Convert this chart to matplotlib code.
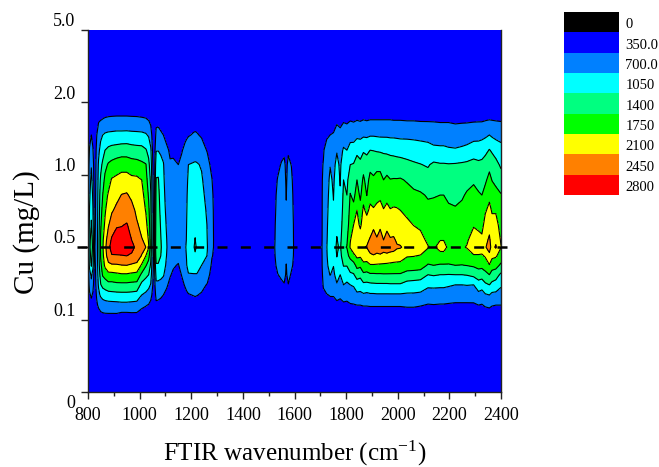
#!/usr/bin/env python3
# -*- coding: utf-8 -*-
import numpy as np
from matplotlib import pyplot as plt
from matplotlib.colors import ListedColormap

plt.rcParams['font.family'] = ['Liberation Serif', 'DejaVu Serif']
plt.rcParams['mathtext.default'] = 'regular'
plt.rcParams['lines.scale_dashes'] = False

# y axis is evenly spaced by category, not by concentration
cu_labels = ['0', '0.1', '0.5', '1.0', '2.0', '5.0']
cu_ticks = [0, 1, 2, 3, 4, 5]
row_pos = [3.96, 3.76, 3.55, 3.34, 3.14, 2.93, 2.72, 2.51, 2.31, 2.10,
           2.00, 1.88, 1.75, 1.62, 1.48, 1.34, 1.20, 1.06]
background = 400

levels = [0, 350, 700, 1050, 1400, 1750, 2100, 2450, 2800, 3500]
level_labels = ['0', '350.0', '700.0', '1050', '1400', '1750', '2100', '2450', '2800']
colors = ['#000000', '#0000ff', '#0080ff', '#00ffff', '#00ff80',
          '#00ff00', '#ffff00', '#ff8000', '#ff0000']

wavenumber = [800, 806, 813, 819, 825, 834, 841, 849, 857, 866, 879, 892, 911, 930, 950, 969,
              989, 1008, 1024, 1035, 1043, 1051, 1057, 1064, 1072, 1082, 1092, 1105, 1118, 1130,
              1150, 1163, 1176, 1182, 1189, 1208, 1215, 1222, 1240, 1262, 1280, 1288, 1300, 1400,
              1500, 1522, 1535, 1550, 1560, 1568, 1576, 1588, 1597, 1610, 1700, 1706, 1712, 1725,
              1738, 1751, 1764, 1777, 1790, 1803, 1816, 1829, 1842, 1855, 1867, 1880, 1893, 1906,
              1919, 1932, 1945, 1958, 1971, 1984, 1997, 2010, 2036, 2062, 2088, 2117, 2139, 2164,
              2178, 2197, 2223, 2249, 2268, 2294, 2313, 2326, 2339, 2355, 2365, 2380, 2400]

# one line per wavenumber, one value per row_pos
intensity = [
    [420, 440, 460, 480, 500, 520, 540, 560, 580, 620, 650, 620, 580, 540, 520, 480, 450, 420],
    [470, 540, 615, 720, 850, 920, 995, 1065, 1135, 1260, 1300, 1220, 1135, 915, 800, 655, 545, 470],
    [500, 600, 700, 850, 1030, 1130, 1235, 1335, 1430, 1600, 1650, 1540, 1430, 1120, 950, 750, 600, 500],
    [470, 540, 615, 720, 850, 920, 995, 1065, 1135, 1260, 1300, 1220, 1135, 915, 800, 655, 545, 470],
    [420, 440, 460, 480, 500, 520, 540, 560, 580, 620, 650, 620, 580, 540, 520, 480, 450, 420],
    [480, 560, 700, 780, 820, 840, 860, 870, 880, 890, 900, 890, 880, 860, 830, 750, 650, 550],
    [520, 670, 830, 980, 1090, 1150, 1190, 1220, 1250, 1290, 1300, 1280, 1250, 1190, 1090, 970, 760, 560],
    [540, 690, 980, 1150, 1300, 1450, 1550, 1620, 1700, 1790, 1800, 1770, 1680, 1530, 1380, 1100, 840, 620],
    [550, 710, 1050, 1250, 1470, 1610, 1750, 1850, 1950, 2030, 2050, 2010, 1900, 1790, 1500, 1180, 880, 640],
    [560, 725, 1100, 1400, 1650, 1830, 1960, 2060, 2150, 2320, 2360, 2300, 2170, 1890, 1550, 1230, 900, 650],
    [570, 735, 1130, 1480, 1790, 1960, 2140, 2270, 2420, 2620, 2700, 2620, 2370, 2000, 1640, 1260, 920, 650],
    [570, 740, 1140, 1520, 1850, 2130, 2280, 2410, 2600, 2850, 2950, 2770, 2400, 2000, 1640, 1280, 920, 650],
    [570, 745, 1160, 1540, 1920, 2180, 2350, 2530, 2770, 2920, 3000, 2770, 2410, 2030, 1670, 1290, 930, 650],
    [570, 745, 1160, 1570, 1960, 2240, 2460, 2610, 2780, 2940, 3000, 2780, 2440, 2060, 1670, 1300, 950, 600],
    [570, 745, 1167, 1575, 1950, 2250, 2485, 2660, 2820, 2950, 3020, 2800, 2450, 2060, 1670, 1300, 950, 600],
    [570, 740, 1150, 1540, 1900, 2180, 2380, 2560, 2700, 2800, 2900, 2750, 2400, 2030, 1650, 1290, 930, 620],
    [560, 740, 1140, 1520, 1880, 2170, 2280, 2380, 2490, 2660, 2720, 2620, 2380, 2000, 1640, 1260, 920, 620],
    [560, 730, 1130, 1510, 1820, 2100, 2200, 2280, 2360, 2470, 2560, 2430, 2050, 1680, 1300, 1050, 770, 570],
    [550, 720, 1090, 1430, 1770, 1880, 1980, 2080, 2200, 2390, 2450, 2100, 1780, 1490, 1220, 980, 720, 540],
    [530, 690, 1010, 1300, 1480, 1590, 1710, 1820, 1930, 2060, 2120, 1850, 1620, 1400, 1130, 920, 680, 520],
    [500, 620, 840, 1110, 1220, 1340, 1420, 1480, 1540, 1590, 1620, 1500, 1350, 1200, 1030, 790, 620, 480],
    [450, 480, 560, 630, 700, 740, 760, 780, 790, 800, 820, 790, 770, 740, 700, 620, 530, 440],
    [420, 430, 450, 480, 520, 550, 570, 590, 600, 620, 640, 620, 600, 570, 540, 500, 450, 420],
    [480, 610, 780, 1030, 1270, 1420, 1500, 1560, 1620, 1680, 1720, 1600, 1350, 1150, 990, 790, 630, 500],
    [480, 620, 790, 1040, 1260, 1430, 1500, 1560, 1620, 1680, 1700, 1590, 1350, 1140, 990, 780, 620, 500],
    [470, 590, 740, 1000, 1140, 1210, 1260, 1300, 1360, 1420, 1450, 1400, 1300, 1130, 950, 750, 590, 490],
    [460, 570, 700, 950, 1070, 1100, 1130, 1150, 1170, 1190, 1200, 1180, 1150, 1080, 900, 700, 570, 470],
    [440, 530, 630, 740, 830, 890, 930, 980, 1020, 1050, 1060, 1040, 1000, 900, 730, 640, 530, 450],
    [430, 500, 590, 670, 720, 790, 840, 870, 880, 890, 900, 880, 830, 720, 640, 580, 500, 440],
    [430, 490, 570, 650, 740, 780, 800, 820, 830, 840, 850, 820, 730, 660, 610, 570, 500, 440],
    [430, 480, 550, 620, 700, 760, 790, 800, 810, 820, 830, 780, 680, 620, 580, 540, 480, 430],
    [430, 500, 590, 680, 760, 810, 850, 880, 890, 900, 920, 890, 830, 710, 640, 580, 500, 440],
    [440, 530, 640, 760, 840, 890, 930, 960, 980, 1000, 1020, 990, 950, 850, 720, 630, 530, 450],
    [445, 550, 660, 800, 920, 980, 1010, 1030, 1050, 1060, 1080, 1060, 1040, 950, 760, 660, 550, 460],
    [450, 570, 680, 860, 1050, 1100, 1140, 1170, 1200, 1240, 1260, 1220, 1150, 1030, 830, 680, 570, 470],
    [460, 590, 720, 880, 1080, 1150, 1200, 1240, 1280, 1320, 1340, 1290, 1200, 1030, 860, 710, 580, 480],
    [460, 600, 730, 900, 1090, 1170, 1230, 1280, 1340, 1410, 1480, 1330, 1210, 1030, 870, 720, 590, 480],
    [460, 590, 720, 880, 1080, 1150, 1200, 1240, 1280, 1320, 1340, 1290, 1200, 1030, 860, 710, 580, 480],
    [450, 570, 670, 820, 1020, 1090, 1130, 1170, 1210, 1260, 1280, 1190, 1050, 940, 780, 670, 560, 470],
    [430, 500, 590, 680, 800, 880, 960, 1010, 1040, 1050, 1060, 1040, 980, 820, 680, 600, 510, 440],
    [410, 440, 480, 540, 620, 710, 770, 800, 810, 810, 800, 720, 640, 580, 530, 490, 450, 420],
    [410, 430, 460, 500, 550, 600, 630, 650, 660, 670, 670, 660, 620, 580, 540, 500, 460, 430],
    [420, 430, 450, 470, 490, 500, 510, 520, 530, 540, 550, 540, 530, 510, 490, 470, 450, 430],
    [420, 430, 450, 470, 490, 500, 510, 520, 530, 540, 550, 540, 530, 510, 490, 470, 450, 430],
    [420, 430, 450, 470, 490, 500, 510, 520, 530, 540, 550, 540, 530, 510, 490, 470, 450, 430],
    [420, 440, 460, 490, 530, 580, 620, 640, 660, 670, 680, 670, 640, 610, 560, 500, 460, 430],
    [430, 450, 480, 540, 620, 720, 770, 790, 810, 830, 850, 810, 770, 690, 560, 500, 460, 430],
    [430, 460, 500, 590, 730, 780, 820, 840, 850, 860, 880, 850, 810, 760, 640, 540, 470, 430],
    [430, 470, 530, 640, 760, 800, 830, 850, 870, 880, 900, 870, 840, 790, 680, 560, 480, 430],
    [430, 470, 530, 600, 630, 660, 690, 720, 790, 830, 860, 760, 690, 660, 590, 520, 470, 430],
    [430, 470, 540, 660, 770, 810, 840, 860, 870, 880, 900, 870, 840, 800, 690, 570, 490, 430],
    [420, 450, 490, 560, 690, 760, 790, 810, 820, 830, 840, 820, 760, 660, 560, 500, 460, 430],
    [420, 440, 460, 500, 560, 600, 640, 660, 680, 685, 690, 680, 650, 600, 540, 490, 450, 420],
    [420, 430, 450, 470, 490, 500, 510, 520, 530, 540, 550, 540, 530, 510, 490, 470, 450, 430],
    [420, 430, 450, 480, 520, 550, 570, 590, 600, 620, 640, 620, 600, 570, 540, 500, 450, 430],
    [430, 470, 540, 640, 680, 690, 690, 690, 690, 690, 695, 690, 690, 680, 670, 640, 500, 440],
    [430, 480, 560, 680, 710, 720, 730, 735, 740, 750, 760, 750, 740, 730, 710, 680, 520, 450],
    [450, 540, 660, 800, 900, 940, 960, 980, 1000, 1020, 1040, 1020, 990, 950, 880, 680, 560, 460],
    [460, 580, 700, 880, 1040, 1100, 1140, 1180, 1220, 1270, 1300, 1260, 1180, 1060, 900, 720, 580, 470],
    [470, 590, 720, 860, 970, 1010, 1040, 1070, 1100, 1170, 1220, 1150, 1060, 980, 860, 720, 590, 480],
    [480, 640, 830, 1030, 1130, 1190, 1240, 1280, 1330, 1420, 1460, 1410, 1320, 1180, 1020, 800, 620, 490],
    [480, 610, 780, 930, 1000, 1030, 1080, 1140, 1210, 1290, 1340, 1260, 1180, 1050, 920, 760, 600, 490],
    [490, 660, 880, 1090, 1240, 1400, 1470, 1530, 1590, 1680, 1720, 1650, 1420, 1200, 1050, 830, 640, 490],
    [490, 640, 860, 1050, 1240, 1320, 1400, 1480, 1560, 1700, 1760, 1650, 1420, 1180, 1000, 810, 630, 490],
    [490, 680, 930, 1170, 1400, 1600, 1770, 1870, 1960, 2080, 2130, 1850, 1550, 1350, 1050, 860, 670, 500],
    [490, 660, 920, 1190, 1420, 1540, 1650, 1870, 2100, 2270, 2330, 2000, 1620, 1370, 1090, 870, 680, 500],
    [490, 690, 970, 1310, 1560, 1750, 1920, 2100, 2220, 2350, 2420, 2170, 1850, 1550, 1220, 980, 700, 510],
    [490, 670, 960, 1280, 1470, 1560, 1680, 1880, 2030, 2290, 2400, 2150, 1820, 1500, 1200, 970, 700, 510],
    [490, 700, 1000, 1360, 1610, 1820, 1990, 2160, 2280, 2400, 2440, 2300, 1990, 1680, 1320, 1000, 720, 510],
    [490, 680, 990, 1340, 1520, 1610, 1740, 2020, 2250, 2410, 2460, 2280, 1980, 1650, 1310, 970, 720, 510],
    [490, 700, 1020, 1400, 1640, 1860, 2000, 2170, 2350, 2470, 2560, 2400, 2070, 1700, 1330, 1000, 730, 510],
    [490, 700, 1020, 1390, 1620, 1800, 1960, 2130, 2380, 2600, 2680, 2420, 2070, 1700, 1340, 1000, 730, 510],
    [490, 700, 1010, 1370, 1650, 1870, 2020, 2170, 2320, 2480, 2560, 2400, 2060, 1710, 1350, 1010, 730, 510],
    [490, 700, 1000, 1360, 1640, 1880, 2040, 2210, 2390, 2590, 2680, 2390, 2050, 1710, 1350, 1010, 730, 510],
    [490, 700, 1000, 1340, 1600, 1750, 1920, 2120, 2310, 2450, 2550, 2380, 2040, 1720, 1350, 1010, 730, 510],
    [490, 700, 1000, 1330, 1590, 1820, 2010, 2180, 2370, 2560, 2620, 2370, 2030, 1720, 1350, 1010, 730, 510],
    [490, 700, 990, 1310, 1560, 1760, 1930, 2120, 2300, 2480, 2560, 2360, 2010, 1720, 1360, 1010, 730, 510],
    [490, 690, 990, 1300, 1550, 1770, 1960, 2140, 2310, 2490, 2550, 2340, 1990, 1720, 1360, 1010, 730, 510],
    [490, 690, 980, 1290, 1530, 1770, 1950, 2130, 2280, 2410, 2480, 2320, 1980, 1720, 1360, 1010, 730, 510],
    [490, 690, 970, 1280, 1520, 1780, 1950, 2100, 2250, 2390, 2470, 2300, 1970, 1720, 1360, 1010, 730, 510],
    [490, 680, 970, 1260, 1480, 1720, 1870, 2020, 2170, 2320, 2370, 2120, 1940, 1620, 1270, 1000, 750, 510],
    [490, 680, 960, 1240, 1440, 1640, 1820, 1960, 2090, 2260, 2320, 2110, 1930, 1600, 1250, 1000, 750, 510],
    [490, 670, 940, 1220, 1410, 1600, 1790, 1920, 2040, 2200, 2280, 2080, 1910, 1570, 1230, 980, 720, 510],
    [490, 670, 920, 1190, 1370, 1530, 1720, 1830, 1930, 2040, 2120, 1950, 1720, 1400, 1120, 880, 680, 500],
    [490, 670, 890, 1130, 1460, 1600, 1730, 1840, 1900, 2000, 2050, 1930, 1750, 1430, 1130, 880, 690, 510],
    [490, 660, 880, 1120, 1430, 1600, 1750, 1850, 1950, 2090, 2220, 1970, 1720, 1400, 1120, 870, 680, 510],
    [490, 660, 880, 1120, 1430, 1600, 1750, 1850, 1950, 2090, 2230, 1970, 1720, 1400, 1120, 870, 680, 510],
    [490, 660, 880, 1090, 1420, 1550, 1680, 1810, 1900, 1990, 2020, 1930, 1720, 1390, 1090, 850, 670, 500],
    [490, 640, 860, 1080, 1430, 1530, 1640, 1790, 1870, 1960, 2000, 1930, 1750, 1400, 1050, 860, 650, 500],
    [490, 650, 870, 1110, 1450, 1590, 1710, 1830, 1930, 2040, 2060, 1940, 1740, 1400, 1050, 860, 650, 500],
    [490, 650, 890, 1140, 1470, 1640, 1790, 1880, 1960, 2060, 2120, 1950, 1760, 1420, 1060, 860, 650, 500],
    [490, 660, 920, 1230, 1510, 1700, 1860, 1980, 2070, 2250, 2330, 2060, 1800, 1490, 1050, 870, 650, 500],
    [490, 660, 950, 1200, 1480, 1620, 1790, 1910, 2030, 2200, 2320, 2060, 1860, 1580, 1240, 950, 700, 500],
    [490, 660, 960, 1240, 1490, 1610, 1750, 1870, 1990, 2170, 2250, 2060, 1850, 1550, 1200, 900, 680, 500],
    [490, 680, 990, 1300, 1570, 1690, 1880, 2060, 2220, 2360, 2420, 2130, 1940, 1630, 1340, 1010, 740, 510],
    [510, 700, 1050, 1420, 1650, 1860, 2020, 2190, 2350, 2500, 2580, 2370, 2080, 1750, 1400, 1050, 770, 520],
    [500, 690, 1000, 1350, 1610, 1740, 1900, 2070, 2200, 2300, 2330, 2170, 1940, 1580, 1320, 960, 720, 510],
    [490, 680, 960, 1250, 1510, 1670, 1850, 2060, 2230, 2380, 2490, 2140, 1880, 1550, 1250, 960, 700, 500],
    [490, 670, 930, 1170, 1340, 1560, 1770, 1860, 1950, 2060, 2110, 1950, 1680, 1330, 1100, 900, 700, 500],
]
dash_x = [759, 2427]

# 上下补一行背景值，铺满整个纵轴
z = np.array(intensity, dtype=float).T
z = np.pad(z, ((1, 1), (0, 0)), constant_values=background)
y = [0] + row_pos[::-1] + [5]
z = z[::-1]

w, h = 659, 467
fig = plt.figure(figsize=(w / 100, h / 100), dpi=100)
ax = fig.add_axes([88 / w, (h - 392) / h, 413 / w, 362 / h])

ax.contourf(wavenumber, y, z, levels=levels, colors=colors)
ax.contour(wavenumber, y, z, levels=levels[2:-1], colors='black', linewidths=0.8)
ax.plot(dash_x, [2, 2], color='black', lw=1.8, dashes=(7.2, 9.6), clip_on=False, zorder=5)

ax.set_xlim(800, 2400)
ax.set_ylim(0, 5)
ax.set_xticks(range(800, 2401, 200))
ax.set_xticks(range(900, 2400, 200), minor=True)
ax.set_yticks(cu_ticks)
ax.set_yticklabels([])
ax.tick_params(axis='both', which='major', length=5, width=1, direction='out', color='#222222')
ax.tick_params(axis='x', which='minor', length=3, width=1, color='#222222')
ax.tick_params(axis='x', labelsize=13, pad=6)
ax.spines['top'].set_visible(False)
for side in ['left', 'bottom', 'right']:
    ax.spines[side].set_linewidth(1.0)
    ax.spines[side].set_color('#222222')

# y 轴标签画在刻度上方一点
for pos, lab in zip(cu_ticks, cu_labels):
    dy = -8 if pos == 0 else 6
    ax.annotate(lab, xy=(0, pos), xycoords=('axes fraction', 'data'),
                xytext=(-9, dy), textcoords='offset points',
                ha='right', va='center', fontsize=13)

fig.text(295 / w, 1 - 461 / h, 'FTIR wavenumber (cm$^{-1}$)', fontsize=18, ha='center', va='baseline')
fig.text(27 / w, 1 - 232.5 / h, 'Cu (mg/L)', fontsize=21, rotation=90, ha='center', va='center')

# 右上角的色标
cax = fig.add_axes([564 / w, (h - 195) / h, 55 / w, 183 / h])
cax.imshow(np.arange(len(colors))[:, None], cmap=ListedColormap(colors), aspect='auto')
cax.axis('off')
for i, lab in enumerate(level_labels):
    cax.annotate(lab, xy=(1, i), xycoords=('axes fraction', 'data'), xytext=(4.5, -2),
                 textcoords='offset points', ha='left', va='center', fontsize=10.5)

plt.savefig('out.png', dpi=100)
